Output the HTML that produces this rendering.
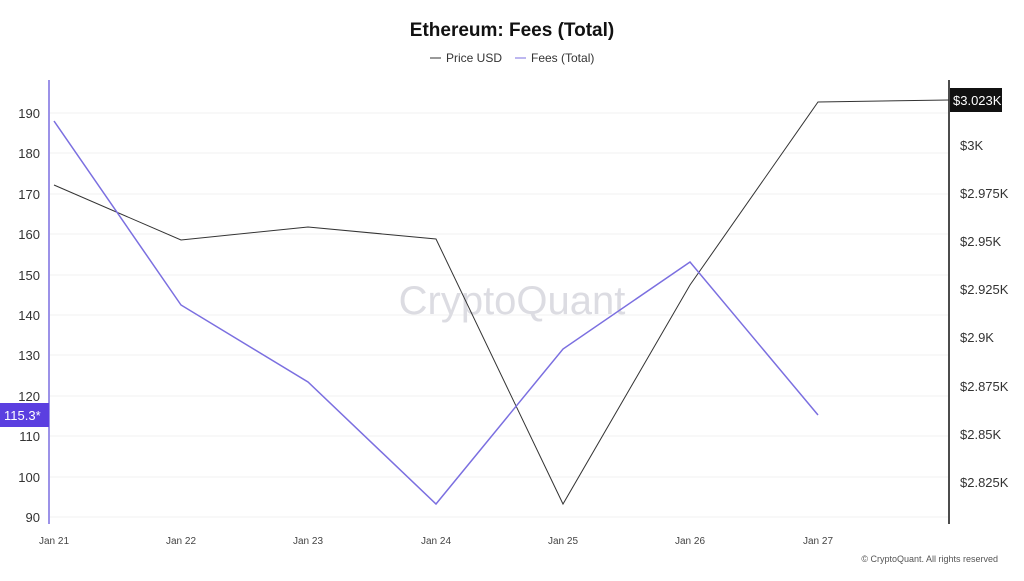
<!DOCTYPE html>
<html><head><style>
body{margin:0;background:#fff;font-family:"Liberation Sans",sans-serif;}
</style></head><body>
<svg width="1024" height="576" xmlns="http://www.w3.org/2000/svg" font-family="Liberation Sans, sans-serif">
<rect width="1024" height="576" fill="#fff"/>
<text x="512" y="36" text-anchor="middle" font-size="19" font-weight="bold" fill="#111">Ethereum: Fees (Total)</text>
<line x1="430" y1="58" x2="441" y2="58" stroke="#333"/>
<text x="446" y="62" font-size="12" fill="#333">Price USD</text>
<line x1="515" y1="58" x2="526" y2="58" stroke="#7b6fe0"/>
<text x="531" y="62" font-size="12" fill="#333">Fees (Total)</text>
<g stroke="#f2f2f2" stroke-width="1">
<line x1="50" x2="948" y1="113" y2="113"/><line x1="50" x2="948" y1="153" y2="153"/>
<line x1="50" x2="948" y1="194" y2="194"/><line x1="50" x2="948" y1="234" y2="234"/>
<line x1="50" x2="948" y1="275" y2="275"/><line x1="50" x2="948" y1="315" y2="315"/>
<line x1="50" x2="948" y1="355" y2="355"/><line x1="50" x2="948" y1="396" y2="396"/>
<line x1="50" x2="948" y1="436" y2="436"/><line x1="50" x2="948" y1="477" y2="477"/>
<line x1="50" x2="948" y1="517" y2="517"/>
</g>
<text x="512" y="314" text-anchor="middle" font-size="40" fill="#dcdce2">CryptoQuant</text>
<g font-size="13" fill="#333" text-anchor="end">
<text x="40" y="118">190</text><text x="40" y="158">180</text><text x="40" y="199">170</text>
<text x="40" y="239">160</text><text x="40" y="280">150</text><text x="40" y="320">140</text>
<text x="40" y="360">130</text><text x="40" y="401">120</text><text x="40" y="441">110</text>
<text x="40" y="482">100</text><text x="40" y="522">90</text>
</g>
<g font-size="13" fill="#333">
<text x="960" y="150">$3K</text><text x="960" y="198">$2.975K</text><text x="960" y="246">$2.95K</text>
<text x="960" y="294">$2.925K</text><text x="960" y="342">$2.9K</text><text x="960" y="391">$2.875K</text>
<text x="960" y="439">$2.85K</text><text x="960" y="487">$2.825K</text>
</g>
<line x1="49" y1="80" x2="49" y2="524" stroke="#7b6fe0" stroke-width="1.5"/>
<line x1="949" y1="80" x2="949" y2="524" stroke="#111" stroke-width="1.5"/>
<polyline fill="none" stroke="#333" stroke-width="1" points="54,185 181,240 308,227 436,239 563,504 690,285 818,102 949,100"/>
<polyline fill="none" stroke="#7b6fe0" stroke-width="1.5" points="54,121 181,305 308,382 436,504 563,349 690,262 818,415"/>
<rect x="0" y="403" width="49" height="24" fill="#5b3fe0"/>
<text x="4" y="420" font-size="13" fill="#fff">115.3*</text>
<rect x="950" y="88" width="52" height="24" fill="#111"/>
<text x="953" y="105" font-size="13" fill="#fff">$3.023K</text>
<g font-size="10" fill="#444" text-anchor="middle">
<text x="54" y="544">Jan 21</text><text x="181" y="544">Jan 22</text><text x="308" y="544">Jan 23</text>
<text x="436" y="544">Jan 24</text><text x="563" y="544">Jan 25</text><text x="690" y="544">Jan 26</text>
<text x="818" y="544">Jan 27</text>
</g>
<text x="998" y="562" text-anchor="end" font-size="9" fill="#555">© CryptoQuant. All rights reserved</text>
</svg>
</body></html>
